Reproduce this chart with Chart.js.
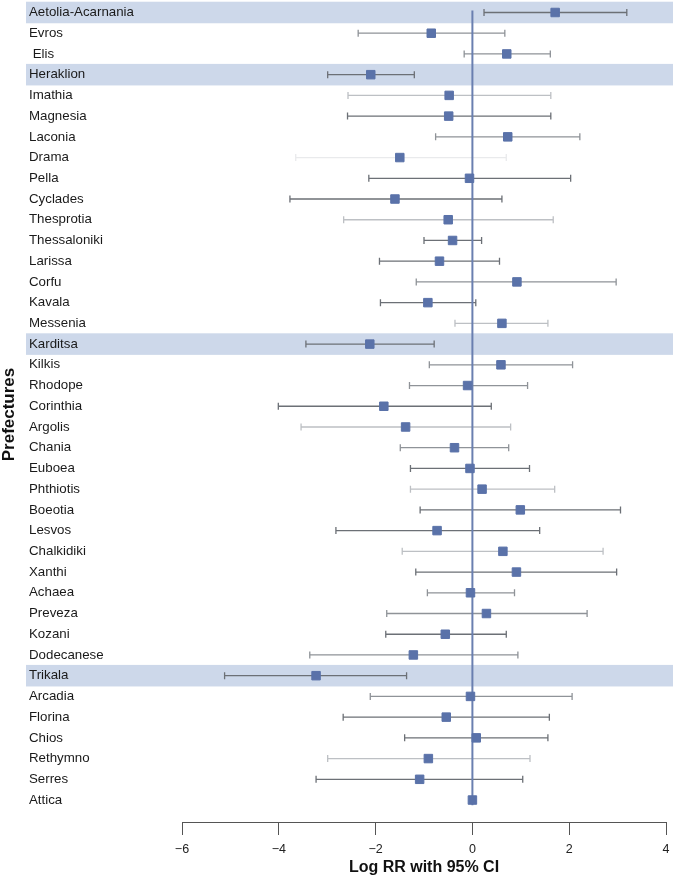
<!DOCTYPE html>
<html>
<head>
<meta charset="utf-8">
<title>Log RR by prefecture</title>
<script src="https://cdn.jsdelivr.net/npm/chart.js@4.4.1/dist/chart.umd.min.js"></script>
<style>
  html, body { margin: 0; padding: 0; background: #fff; }
  #wrap { width: 673px; height: 875px; position: relative; }
</style>
</head>
<body>
<div id="wrap"><canvas id="forestChart"></canvas></div>
<script>
// Prefectures, top to bottom
const categories = [
    'Aetolia-Acarnania', 'Evros', ' Elis', 'Heraklion', 'Imathia', 'Magnesia', 'Laconia',
    'Drama', 'Pella', 'Cyclades', 'Thesprotia', 'Thessaloniki', 'Larissa', 'Corfu',
    'Kavala', 'Messenia', 'Karditsa', 'Kilkis', 'Rhodope', 'Corinthia', 'Argolis',
    'Chania', 'Euboea', 'Phthiotis', 'Boeotia', 'Lesvos', 'Chalkidiki', 'Xanthi',
    'Achaea', 'Preveza', 'Kozani', 'Dodecanese', 'Trikala', 'Arcadia', 'Florina',
    'Chios', 'Rethymno', 'Serres', 'Attica'
];

// Log RR estimates and 95% CI bounds (Attica is the reference, no CI)
const estimates = [
    1.71, -0.85, 0.71, -2.10, -0.48, -0.49, 0.73,
    -1.50, -0.06, -1.60, -0.50, -0.41, -0.68, 0.92,
    -0.92, 0.61, -2.12, 0.59, -0.10, -1.83, -1.38,
    -0.37, -0.05, 0.20, 0.99, -0.73, 0.63, 0.91,
    -0.04, 0.29, -0.56, -1.22, -3.23, -0.04, -0.54,
    0.08, -0.91, -1.09, 0
];
const ciLower = [
    0.24, -2.36, -0.17, -2.99, -2.57, -2.58, -0.76,
    -3.65, -2.14, -3.77, -2.66, -1.00, -1.92, -1.16,
    -1.90, -0.36, -3.44, -0.89, -1.30, -4.01, -3.54,
    -1.49, -1.28, -1.28, -1.08, -2.82, -1.45, -1.17,
    -0.93, -1.77, -1.79, -3.36, -5.12, -2.11, -2.67,
    -1.40, -2.99, -3.23, null
];
const ciUpper = [
    3.19, 0.67, 1.61, -1.20, 1.62, 1.62, 2.22,
    0.70, 2.03, 0.61, 1.67, 0.19, 0.56, 2.97,
    0.07, 1.56, -0.79, 2.07, 1.14, 0.39, 0.79,
    0.75, 1.18, 1.70, 3.06, 1.39, 2.70, 2.98,
    0.87, 2.37, 0.70, 0.94, -1.36, 2.06, 1.59,
    1.56, 1.19, 1.04, null
];

// rows shaded in the figure
const highlighted = ['Aetolia-Acarnania', 'Heraklion', 'Karditsa', 'Trikala'];

// shade of each CI whisker
const ciShade = [
    'dark', 'mid', 'mid', 'dark', 'light', 'dark', 'mid',
    'faint', 'dark', 'dark', 'light', 'dark', 'dark', 'mid',
    'dark', 'light', 'dark', 'mid', 'mid', 'dark', 'light',
    'mid', 'dark', 'light', 'dark', 'dark', 'light', 'dark',
    'mid', 'mid', 'dark', 'mid', 'dark', 'mid', 'dark',
    'dark', 'light', 'dark', 'dark'
];

const xTicks = [-6, -4, -2, 0, 2, 4];

const shadeColors = { dark: '#6c7076', mid: '#8f9398', light: '#bdc0c4', faint: '#e9eaec' };

const forestPlugin = {
    id: 'forest',
    beforeDraw(chart) {
        // highlight bands behind the labels
        const { ctx, scales: { y } } = chart;
        ctx.save();
        ctx.fillStyle = '#cdd8ea';
        categories.forEach((name, i) => {
            if (!highlighted.includes(name.trim())) return;
            const top = y.getPixelForValue(i - 0.52);
            const bottom = y.getPixelForValue(i + 0.52);
            ctx.fillRect(26, top, chart.width - 26, bottom - top);
        });
        ctx.restore();
    },
    beforeDatasetsDraw(chart) {
        const { ctx, scales: { x, y } } = chart;
        ctx.save();
        // confidence intervals
        ctx.lineWidth = 1.3;
        categories.forEach((name, i) => {
            if (ciLower[i] === null || ciUpper[i] === null) return;
            const py = y.getPixelForValue(i);
            const x1 = x.getPixelForValue(ciLower[i]);
            const x2 = x.getPixelForValue(ciUpper[i]);
            ctx.strokeStyle = shadeColors[ciShade[i]];
            ctx.beginPath();
            ctx.moveTo(x1, py); ctx.lineTo(x2, py);
            ctx.moveTo(x1, py - 3.5); ctx.lineTo(x1, py + 3.5);
            ctx.moveTo(x2, py - 3.5); ctx.lineTo(x2, py + 3.5);
            ctx.stroke();
        });
        // line of no effect
        const x0 = x.getPixelForValue(0);
        ctx.strokeStyle = '#6a7fb0';
        ctx.lineWidth = 2;
        ctx.beginPath();
        ctx.moveTo(x0, y.getPixelForValue(-0.1));
        ctx.lineTo(x0, y.getPixelForValue(categories.length - 0.75));
        ctx.stroke();
        ctx.restore();
    }
};

const ctx = document.getElementById('forestChart').getContext('2d');
new Chart(ctx, {
    type: 'scatter',
    data: {
        datasets: [{
            label: 'Log RR',
            data: estimates.map((v, i) => ({ x: v, y: i })),
            pointStyle: 'rect',
            pointRadius: 6,
            pointHoverRadius: 6,
            backgroundColor: '#5a72a9',
            borderColor: '#5a72a9',
            borderWidth: 1
        }]
    },
    options: {
        responsive: true,
        maintainAspectRatio: false,
        animation: false,
        layout: { padding: { left: 29, right: 6, top: 0, bottom: 0 } },
        scales: {
            x: {
                type: 'linear',
                min: -6,
                max: 4,
                afterBuildTicks: (scale) => { scale.ticks = xTicks.map(v => ({ value: v })); },
                afterFit: (scale) => {
                    scale.height = 53;
                    scale.paddingLeft = 0;
                    scale.paddingRight = 0;
                },
                ticks: {
                    color: '#222',
                    padding: 7,
                    font: { family: 'Liberation Sans, Arial, sans-serif', size: 12.5 },
                    callback: (v) => String(v).replace('-', '\u2212')
                },
                grid: {
                    drawOnChartArea: false,
                    drawTicks: true,
                    tickLength: 13,
                    tickColor: '#555',
                    tickWidth: 1
                },
                border: { display: true, color: '#555', width: 1 },
                title: {
                    display: true,
                    text: 'Log RR with 95% CI',
                    color: '#111',
                    padding: { top: 0, bottom: -1 },
                    font: { family: 'Liberation Sans, Arial, sans-serif', size: 16, weight: 'bold', lineHeight: 1 }
                }
            },
            y: {
                type: 'linear',
                reverse: true,
                min: -0.265,
                max: categories.length - 1 + 1.06,
                afterBuildTicks: (scale) => { scale.ticks = categories.map((c, i) => ({ value: i })); },
                afterFit: (scale) => {
                    scale.width = 153;
                    scale.paddingTop = 0;
                    scale.paddingBottom = 0;
                },
                ticks: {
                    autoSkip: false,
                    crossAlign: 'far',
                    color: '#1a1a1a',
                    font: { family: 'Liberation Sans, Arial, sans-serif', size: 13.3 },
                    callback: (v) => categories[v]
                },
                grid: { display: false },
                border: { display: false },
                title: {
                    display: true,
                    text: 'Prefectures',
                    color: '#111',
                    padding: { top: -28.5, bottom: 0 },
                    font: { family: 'Liberation Sans, Arial, sans-serif', size: 17, weight: 'bold', lineHeight: 1 }
                }
            }
        },
        plugins: {
            legend: { display: false },
            tooltip: { enabled: false }
        }
    },
    plugins: [forestPlugin]
});
</script>
</body>
</html>
